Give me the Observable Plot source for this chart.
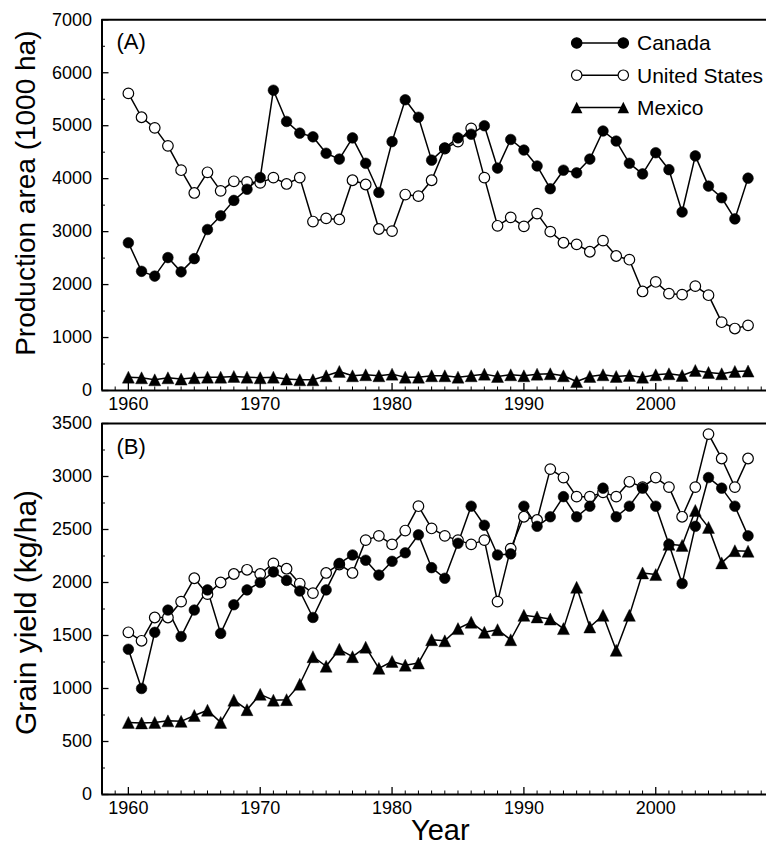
<!DOCTYPE html>
<html>
<head>
<meta charset="utf-8">
<script src="https://cdn.jsdelivr.net/npm/d3@7"></script>
<script src="https://cdn.jsdelivr.net/npm/@observablehq/plot@0.6"></script>
<style>
  html, body { margin: 0; padding: 0; background: #fff; }
  #wrap { position: relative; width: 766px; height: 849px; overflow: hidden; }
  #wrap svg.plot { display: block; }
  #legend { position: absolute; left: 0; top: 0; pointer-events: none; }
</style>
</head>
<body>
<div id="wrap"></div>
<script>
// ---------- data ----------
const years = d3.range(1960, 2008);
const seriesNames = ["Canada", "United States", "Mexico"];

const canadaArea = [2790,2250,2160,2510,2240,2490,3040,3300,3590,3800,
  4020,5670,5080,4860,4790,4480,4370,4770,4290,3740,
  4700,5490,5160,4350,4580,4770,4840,5000,4200,4740,
  4540,4240,3810,4160,4110,4370,4900,4710,4290,4090,
  4490,4170,3370,4430,3860,3640,3240,4010];
const usArea = [5610,5160,4960,4620,4160,3730,4120,3770,3950,3940,
  3920,4020,3900,4020,3190,3250,3230,3970,3890,3050,
  3010,3700,3670,3970,4570,4700,4950,4020,3110,3270,
  3100,3340,3000,2790,2760,2620,2830,2540,2470,1870,
  2050,1830,1810,1970,1800,1290,1170,1230];
const mexicoArea = [252,240,202,240,215,240,252,252,265,252,
  240,252,215,202,202,278,360,278,297,278,
  309,252,252,278,278,252,278,309,265,297,
  278,309,316,278,170,265,297,265,284,252,
  297,316,284,379,341,316,360,366];

const canadaYield = [1370,1000,1530,1740,1490,1740,1930,1520,1790,1930,
  2000,2100,2020,1920,1670,1930,2180,2260,2210,2070,
  2200,2280,2450,2140,2040,2370,2720,2540,2260,2270,
  2720,2530,2620,2810,2620,2720,2890,2620,2720,2890,
  2720,2360,1990,2530,2990,2890,2720,2440];
const usYield = [1530,1450,1670,1670,1820,2040,1890,2000,2080,2120,
  2080,2180,2130,1990,1900,2090,2170,2090,2400,2440,
  2360,2490,2720,2510,2440,2400,2360,2400,1820,2320,
  2620,2590,3070,2990,2810,2810,2850,2810,2950,2900,
  2990,2900,2620,2900,3400,3170,2900,3170];
const mexicoYield = [680,675,680,695,690,745,795,680,890,800,
  945,890,895,1040,1300,1210,1370,1300,1390,1190,
  1255,1220,1240,1460,1450,1565,1625,1530,1555,1460,
  1690,1675,1655,1565,1955,1580,1690,1360,1690,2090,
  2075,2360,2350,2680,2520,2185,2300,2295];

const xTickLabels = [1960, 1970, 1980, 1990, 2000];
const areaTicks = [0, 1000, 2000, 3000, 4000, 5000, 6000, 7000];
const yieldTicks = [0, 500, 1000, 1500, 2000, 2500, 3000, 3500];

// ---------- layout ----------
const W = 766, ML = 101.5, MR = 0;
const xDomain = [1958, 2008.4];
const FONT = "'Liberation Sans', Arial, Helvetica, sans-serif";

const triangle = {
  draw(ctx, size) {
    const h = Math.sqrt(size / Math.PI) * 2.4;
    ctx.moveTo(0, -h / 2);
    ctx.lineTo(h / 2, h / 2);
    ctx.lineTo(-h / 2, h / 2);
    ctx.closePath();
  }
};

function toRows(vals, name) {
  return years.map((y, i) => ({year: y, value: vals[i], series: name}));
}

function panel(opts) {
  const {height, marginTop, marginBottom, yDomain, majorY, tag, tagDy, ylabel, ylabelSize, ylabelDy, data, extra = []} = opts;
  const plotH = height - marginTop - marginBottom;
  const plotW = W - ML - MR;
  const step = majorY[1] - majorY[0];
  const minorY = majorY.slice(0, -1).map(v => v + step / 2);
  const minorX = d3.range(1959, 2009).filter(y => y % 10 !== 0);
  const [ca, us, mx] = data;
  const all = [...us, ...ca, ...mx];
  return Plot.plot({
    width: W, height, marginLeft: ML, marginRight: MR, marginTop, marginBottom,
    style: {fontFamily: FONT, fontSize: "18px", color: "#000", background: "#fff", overflow: "visible"},
    x: {domain: xDomain},
    y: {domain: yDomain},
    marks: [
      // inward ticks
      Plot.tickX(minorX, {x: d => d, insetTop: plotH - 3.5, stroke: "#000", strokeWidth: 1}),
      Plot.tickX(xTickLabels, {x: d => d, insetTop: plotH - 7, stroke: "#000", strokeWidth: 1.3}),
      Plot.tickY(minorY, {y: d => d, insetRight: plotW - 3.5, stroke: "#000", strokeWidth: 1}),
      Plot.tickY(majorY, {y: d => d, insetRight: plotW - 7, stroke: "#000", strokeWidth: 1.3}),
      Plot.axisX({ticks: xTickLabels, tickSize: 0, tickPadding: 7, tickFormat: d => String(d), fontSize: 18, label: null}),
      Plot.axisY({ticks: majorY, tickSize: 0, tickPadding: 10, tickFormat: d => String(d), fontSize: 18, label: null}),
      // frame lines
      Plot.ruleX([xDomain[0]], {stroke: "#000", strokeWidth: 2}),
      Plot.ruleY([yDomain[0]], {stroke: "#000", strokeWidth: 2}),
      Plot.ruleY([yDomain[1]], {stroke: "#000", strokeWidth: 2}),
      // series lines
      Plot.line(all, {x: "year", y: "value", z: "series", stroke: "#000", strokeWidth: 1.5}),
      Plot.dot(us, {x: "year", y: "value", r: 5.3, fill: "#fff", stroke: "#000", strokeWidth: 1.2}),
      Plot.dot(ca, {x: "year", y: "value", r: 5.3, fill: "#000", stroke: "#000", strokeWidth: 0.6}),
      Plot.dot(mx, {x: "year", y: "value", r: 5, symbol: triangle, fill: "#000", stroke: "#000", strokeWidth: 0.4}),
      // panel tag
      Plot.text([tag], {text: d => d, frameAnchor: "top-left", textAnchor: "start", lineAnchor: "middle", dx: 14.5, dy: tagDy, fontSize: 22, fill: "#000"}),
      // y label
      Plot.text([ylabel], {text: d => d, frameAnchor: "left", rotate: -90, textAnchor: "middle", lineAnchor: "middle", dx: -75.5, dy: ylabelDy, fontSize: ylabelSize, fill: "#000"}),
      ...extra
    ]
  });
}

const wrap = document.getElementById("wrap");

const pA = panel({
  height: 420, marginTop: 19.3, marginBottom: 30,
  yDomain: [0, 7000], majorY: areaTicks, tag: "(A)", tagDy: 22,
  ylabel: "Production area (1000 ha)", ylabelSize: 28, ylabelDy: -12,
  data: [toRows(canadaArea, "Canada"), toRows(usArea, "United States"), toRows(mexicoArea, "Mexico")]
});
pA.classList.add("plot");
wrap.appendChild(pA);

const pB = panel({
  height: 429, marginTop: 3, marginBottom: 55,
  yDomain: [0, 3500], majorY: yieldTicks, tag: "(B)", tagDy: 23,
  ylabel: "Grain yield (kg/ha)", ylabelSize: 30, ylabelDy: 3.5,
  data: [toRows(canadaYield, "Canada"), toRows(usYield, "United States"), toRows(mexicoYield, "Mexico")],
  extra: [Plot.text(["Year"], {text: d => d, frameAnchor: "bottom", lineAnchor: "middle", dx: 6, dy: 36, fontSize: 29, fill: "#000"})]
});
pB.classList.add("plot");
wrap.appendChild(pB);

// ---------- legend (overlay) ----------
const legendRows = [
  {name: seriesNames[0], kind: "filled"},
  {name: seriesNames[1], kind: "open"},
  {name: seriesNames[2], kind: "tri"}
];
const lg = d3.select(wrap).append("svg").attr("id", "legend").attr("width", W).attr("height", 140);
const lx0 = 576.7, lx1 = 623.3, ltx = 637, ly0 = 43, ldy = 32.2;
legendRows.forEach((row, i) => {
  const y = ly0 + i * ldy;
  const g = lg.append("g");
  g.append("line").attr("x1", lx0).attr("x2", lx1).attr("y1", y).attr("y2", y).attr("stroke", "#000").attr("stroke-width", 1.5);
  [lx0, lx1].forEach(x => {
    if (row.kind === "tri") {
      const h = 11.5;
      g.append("path").attr("d", `M${x},${y - h / 2}L${x + h / 2},${y + h / 2}L${x - h / 2},${y + h / 2}Z`).attr("fill", "#000");
    } else {
      g.append("circle").attr("cx", x).attr("cy", y).attr("r", 5.2)
        .attr("fill", row.kind === "filled" ? "#000" : "#fff").attr("stroke", "#000").attr("stroke-width", 1.2);
    }
  });
  g.append("text").attr("x", ltx).attr("y", y).attr("dy", "0.35em")
    .attr("font-family", FONT).attr("font-size", 21).attr("fill", "#000").text(row.name);
});
</script>
</body>
</html>
